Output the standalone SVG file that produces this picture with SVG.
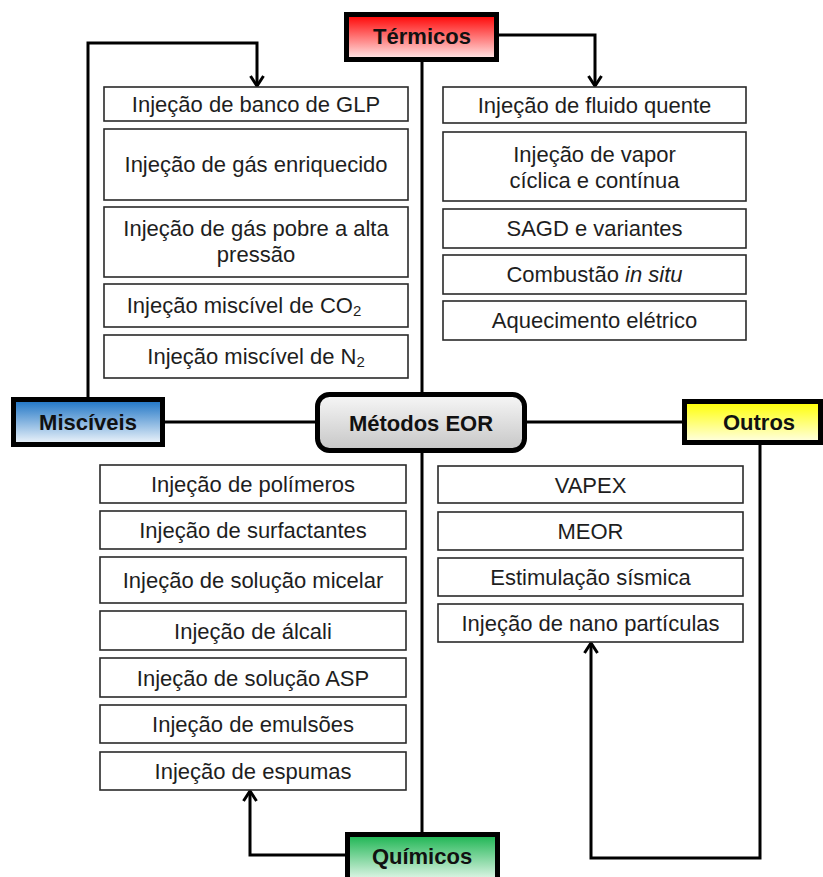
<svg xmlns="http://www.w3.org/2000/svg" width="823" height="877" viewBox="0 0 823 877">
<defs>
<linearGradient id="gRed" x1="0" y1="0" x2="0" y2="1"><stop offset="0" stop-color="#ff0000"/><stop offset="1" stop-color="#ffecec"/></linearGradient>
<linearGradient id="gBlue" x1="0" y1="0" x2="0" y2="1"><stop offset="0" stop-color="#1a72c4"/><stop offset="1" stop-color="#f2f7fc"/></linearGradient>
<linearGradient id="gYellow" x1="0" y1="0" x2="0" y2="1"><stop offset="0" stop-color="#ffff00"/><stop offset="1" stop-color="#ffffe6"/></linearGradient>
<linearGradient id="gGreen" x1="0" y1="0" x2="0" y2="1"><stop offset="0" stop-color="#19b44f"/><stop offset="1" stop-color="#eefaf2"/></linearGradient>
<linearGradient id="gGray" x1="0" y1="0" x2="0" y2="1"><stop offset="0" stop-color="#f7f7f7"/><stop offset="1" stop-color="#c6c6c6"/></linearGradient>
<marker id="arrow" markerUnits="userSpaceOnUse" markerWidth="16" markerHeight="16" viewBox="0 0 16 16" refX="13" refY="8" orient="auto">
<path d="M3,1.5 L13,8 L3,14.5" fill="none" stroke="#000" stroke-width="3"/>
</marker>
</defs>
<style>
.cat{stroke:#000;stroke-width:5}
.box{fill:#fff;stroke:#2a2a2a;stroke-width:1.6}
.t{font-family:"Liberation Sans",Arial,sans-serif;font-size:22px;fill:#1e1e1e;text-anchor:middle}
.ct{font-family:"Liberation Sans",Arial,sans-serif;font-size:22px;font-weight:bold;fill:#111;text-anchor:middle}
.con{fill:none;stroke:#000;stroke-width:3}
</style>
<rect width="823" height="877" fill="#fff"/>
<g id="connectors">
<path class="con" d="M88,397 V43 H257 V86" marker-end="url(#arrow)"/>
<path class="con" d="M499,35 H595 V86" marker-end="url(#arrow)"/>
<path class="con" d="M422,62 V392"/>
<path class="con" d="M165,422 H315"/>
<path class="con" d="M527,422 H682"/>
<path class="con" d="M422,453 V832"/>
<path class="con" d="M345,855 H250 V791" marker-end="url(#arrow)"/>
<path class="con" d="M760,445 V858 H591 V643" marker-end="url(#arrow)"/>
</g>
<g id="termicos"><rect class="cat" x="346.5" y="14.5" width="150" height="45" fill="url(#gRed)"/><text class="ct" x="422" y="44">Térmicos</text></g>
<g id="misciveis"><rect class="cat" x="13.5" y="399.5" width="149" height="45" fill="url(#gBlue)"/><text class="ct" x="88" y="430">Miscíveis</text></g>
<g id="eor"><rect class="cat" x="317.5" y="394.5" width="207" height="56" rx="12" fill="url(#gGray)"/><text class="ct" x="421" y="431">Métodos EOR</text></g>
<g id="outros"><rect class="cat" x="684.5" y="401.5" width="136" height="41" fill="url(#gYellow)"/><text class="ct" x="759" y="430">Outros</text></g>
<g id="quimicos"><rect class="cat" x="347.5" y="834.5" width="150" height="48" fill="url(#gGreen)"/><text class="ct" x="422" y="864">Químicos</text></g>

<g id="m1"><rect class="box" x="104" y="87" width="304" height="34"/><text class="t" x="256" y="112">Injeção de banco de GLP</text></g>
<g id="m2"><rect class="box" x="104" y="129" width="304" height="71"/><text class="t" x="256" y="172">Injeção de gás enriquecido</text></g>
<g id="m3"><rect class="box" x="104" y="207" width="304" height="70"/><text class="t" x="256" y="236">Injeção de gás pobre a alta</text><text class="t" x="256" y="262">pressão</text></g>
<g id="m4"><rect class="box" x="104" y="284" width="304" height="43"/><text class="t" x="244" y="313">Injeção miscível de CO<tspan font-size="15" dy="3">2</tspan></text></g>
<g id="m5"><rect class="box" x="104" y="335" width="304" height="43"/><text class="t" x="256" y="364">Injeção miscível de N<tspan font-size="15" dy="3">2</tspan></text></g>

<g id="t1"><rect class="box" x="443" y="87" width="303" height="36"/><text class="t" x="594.5" y="113">Injeção de fluido quente</text></g>
<g id="t2"><rect class="box" x="443" y="132" width="303" height="69"/><text class="t" x="594.5" y="162">Injeção de vapor</text><text class="t" x="594.5" y="188">cíclica e contínua</text></g>
<g id="t3"><rect class="box" x="443" y="209" width="303" height="39"/><text class="t" x="594.5" y="236">SAGD e variantes</text></g>
<g id="t4"><rect class="box" x="443" y="255" width="303" height="39"/><text class="t" x="594.5" y="282">Combustão <tspan font-style="italic">in situ</tspan></text></g>
<g id="t5"><rect class="box" x="443" y="301" width="303" height="39"/><text class="t" x="594.5" y="328">Aquecimento elétrico</text></g>

<g id="q1"><rect class="box" x="100" y="465" width="306" height="38"/><text class="t" x="253" y="492">Injeção de polímeros</text></g>
<g id="q2"><rect class="box" x="100" y="511" width="306" height="38"/><text class="t" x="253" y="538">Injeção de surfactantes</text></g>
<g id="q3"><rect class="box" x="100" y="557" width="306" height="46"/><text class="t" x="253" y="588">Injeção de solução micelar</text></g>
<g id="q4"><rect class="box" x="100" y="611" width="306" height="39"/><text class="t" x="253" y="638.5">Injeção de álcali</text></g>
<g id="q5"><rect class="box" x="100" y="658" width="306" height="39"/><text class="t" x="253" y="685.5">Injeção de solução ASP</text></g>
<g id="q6"><rect class="box" x="100" y="705" width="306" height="38"/><text class="t" x="253" y="732">Injeção de emulsões</text></g>
<g id="q7"><rect class="box" x="100" y="752" width="306" height="38"/><text class="t" x="253" y="779">Injeção de espumas</text></g>

<g id="o1"><rect class="box" x="438" y="466" width="305" height="37"/><text class="t" x="590.5" y="492.5">VAPEX</text></g>
<g id="o2"><rect class="box" x="438" y="512" width="305" height="38"/><text class="t" x="590.5" y="539">MEOR</text></g>
<g id="o3"><rect class="box" x="438" y="558" width="305" height="38"/><text class="t" x="590.5" y="585">Estimulação sísmica</text></g>
<g id="o4"><rect class="box" x="438" y="604" width="305" height="38"/><text class="t" x="590.5" y="631">Injeção de nano partículas</text></g>
</svg>
